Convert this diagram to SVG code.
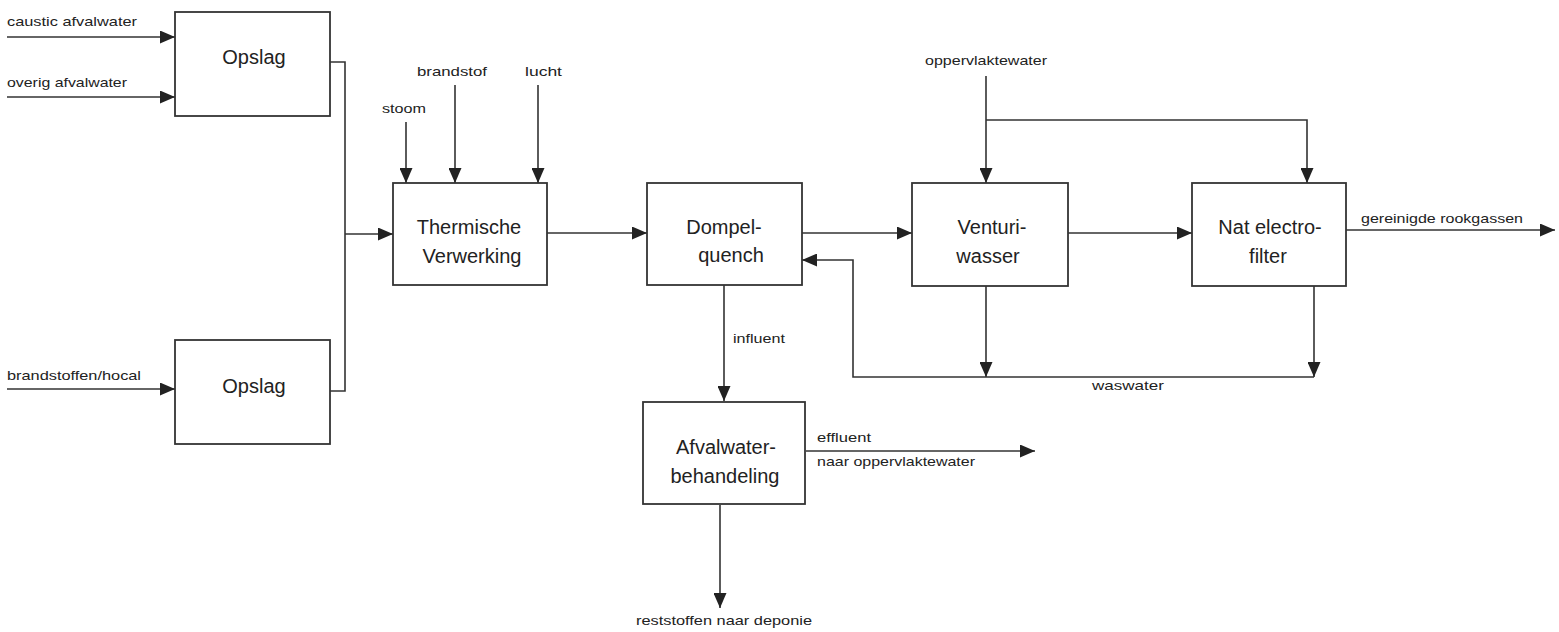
<svg xmlns="http://www.w3.org/2000/svg" width="1559" height="632" viewBox="0 0 1559 632">
<style>
.box{fill:#fff;stroke:#333;stroke-width:1.8}
.ln{fill:none;stroke:#333;stroke-width:1.6}
.lbl{font-family:"Liberation Sans",Arial,sans-serif;font-size:13px;fill:#222}
.bt{font-family:"Liberation Sans",Arial,sans-serif;font-size:20px;fill:#222;text-anchor:middle}
</style>
<defs>
<marker id="ah" viewBox="0 0 15 13" refX="15" refY="6.5" markerWidth="15" markerHeight="13" markerUnits="userSpaceOnUse" orient="auto">
<path d="M0,0 L15,6.5 L0,13 z" fill="#222"/>
</marker>
</defs>
<rect width="1559" height="632" fill="#fff"/>
<g id="connectors">
<path class="ln" d="M7,37 H175" marker-end="url(#ah)"/>
<path class="ln" d="M7,97 H175" marker-end="url(#ah)"/>
<path class="ln" d="M7,389 H175" marker-end="url(#ah)"/>
<path class="ln" d="M330,62 H345 V391 H330"/>
<path class="ln" d="M345,234 H393" marker-end="url(#ah)"/>
<path class="ln" d="M406,122 V183" marker-end="url(#ah)"/>
<path class="ln" d="M455,85 V183" marker-end="url(#ah)"/>
<path class="ln" d="M538,85 V183" marker-end="url(#ah)"/>
<path class="ln" d="M547,233 H647" marker-end="url(#ah)"/>
<path class="ln" d="M802,233 H912" marker-end="url(#ah)"/>
<path class="ln" d="M1068,233 H1192" marker-end="url(#ah)"/>
<path class="ln" d="M1346,230 H1555" marker-end="url(#ah)"/>
<path class="ln" d="M986,76 V183" marker-end="url(#ah)"/>
<path class="ln" d="M986,120 H1307 V183" marker-end="url(#ah)"/>
<path class="ln" d="M986,286 V377" marker-end="url(#ah)"/>
<path class="ln" d="M1314,286 V377" marker-end="url(#ah)"/>
<path class="ln" d="M1314,377 H853 V260 H802" marker-end="url(#ah)"/>
<path class="ln" d="M724,285 V401" marker-end="url(#ah)"/>
<path class="ln" d="M806,451 H1035" marker-end="url(#ah)"/>
<path class="ln" d="M720,505 V608" marker-end="url(#ah)"/>
</g>
<g id="labels">
<text class="lbl" x="7" y="26" textLength="130" lengthAdjust="spacingAndGlyphs">caustic afvalwater</text>
<text class="lbl" x="7" y="87" textLength="120" lengthAdjust="spacingAndGlyphs">overig afvalwater</text>
<text class="lbl" x="7" y="380" textLength="134" lengthAdjust="spacingAndGlyphs">brandstoffen/hocal</text>
<text class="lbl" x="382" y="113" textLength="44" lengthAdjust="spacingAndGlyphs">stoom</text>
<text class="lbl" x="417" y="76" textLength="70" lengthAdjust="spacingAndGlyphs">brandstof</text>
<text class="lbl" x="525" y="76" textLength="37" lengthAdjust="spacingAndGlyphs">lucht</text>
<text class="lbl" x="925" y="65" textLength="122" lengthAdjust="spacingAndGlyphs">oppervlaktewater</text>
<text class="lbl" x="1361" y="223" textLength="162" lengthAdjust="spacingAndGlyphs">gereinigde rookgassen</text>
<text class="lbl" x="733" y="343" textLength="52" lengthAdjust="spacingAndGlyphs">influent</text>
<text class="lbl" x="1092" y="390" textLength="72" lengthAdjust="spacingAndGlyphs">waswater</text>
<text class="lbl" x="817" y="442" textLength="54" lengthAdjust="spacingAndGlyphs">effluent</text>
<text class="lbl" x="817" y="466" textLength="158" lengthAdjust="spacingAndGlyphs">naar oppervlaktewater</text>
<text class="lbl" x="636" y="625" textLength="176" lengthAdjust="spacingAndGlyphs">reststoffen naar deponie</text>
</g>
<g id="opslag1">
<rect class="box" x="175" y="12" width="155" height="104"/>
<text class="bt" x="254" y="64">Opslag</text>
</g>
<g id="opslag2">
<rect class="box" x="175" y="340" width="155" height="104"/>
<text class="bt" x="254" y="393">Opslag</text>
</g>
<g id="thermische">
<rect class="box" x="393" y="183" width="154" height="102"/>
<text class="bt" x="469" y="234">Thermische</text>
<text class="bt" x="472" y="263">Verwerking</text>
</g>
<g id="dompelquench">
<rect class="box" x="647" y="183" width="155" height="102"/>
<text class="bt" x="724" y="234">Dompel-</text>
<text class="bt" x="731" y="262">quench</text>
</g>
<g id="venturi">
<rect class="box" x="912" y="183" width="156" height="103"/>
<text class="bt" x="992" y="234">Venturi-</text>
<text class="bt" x="988" y="263">wasser</text>
</g>
<g id="natfilter">
<rect class="box" x="1192" y="183" width="154" height="103"/>
<text class="bt" x="1270" y="234">Nat electro-</text>
<text class="bt" x="1268" y="263">filter</text>
</g>
<g id="afvalwater">
<rect class="box" x="643" y="402" width="162" height="102"/>
<text class="bt" x="726" y="454">Afvalwater-</text>
<text class="bt" x="725" y="483">behandeling</text>
</g>
</svg>
